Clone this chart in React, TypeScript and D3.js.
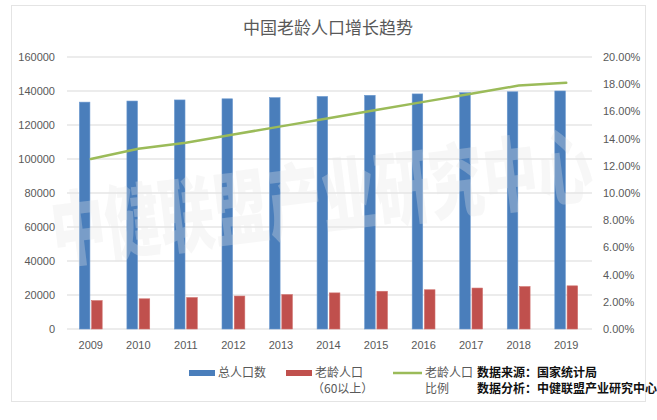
import React from "react";
import * as d3 from "d3";

const years = ["2009","2010","2011","2012","2013","2014","2015","2016","2017","2018","2019"];
const totalPop = [133450,134091,134735,135404,136072,136782,137462,138271,139008,139538,140005];
const elderlyPop = [16714,17765,18499,19390,20243,21242,22200,23086,24090,24949,25388];
const elderlyRatio = [0.125,0.1326,0.137,0.143,0.149,0.155,0.161,0.167,0.173,0.179,0.181];
const leftTicks = [0,20000,40000,60000,80000,100000,120000,140000,160000];
const rightTicks = [0,0.02,0.04,0.06,0.08,0.1,0.12,0.14,0.16,0.18,0.2];
const seriesKeys = ["total","elderly"];

const W = 657, H = 420;
const plotL = 67, plotR = 590, plotT = 57, plotB = 329;
const numFont = "'Liberation Sans', 'Noto Sans CJK SC', sans-serif";
const cjkFont = "'Noto Sans CJK SC', sans-serif";
const grey = "#595959";

export default function App() {
  const x0 = d3.scaleBand<string>().domain(years).range([plotL, plotR]).paddingInner(0.52).paddingOuter(0.26);
  const x1 = d3.scaleBand<string>().domain(seriesKeys).range([0, x0.bandwidth()]).paddingInner(0.14);
  const yL = d3.scaleLinear().domain([0, 160000]).range([plotB, plotT]);
  const yR = d3.scaleLinear().domain([0, 0.2]).range([plotB, plotT]);
  const line = d3.line<number>()
    .x((_, i) => (x0(years[i]) as number) + x0.bandwidth() / 2)
    .y((d) => yR(d));
  const fmtPct = (v: number) => (v * 100).toFixed(2) + "%";

  return (
    <svg width={W} height={H} style={{ position: "absolute", left: 0, top: 0, background: "#fff" }}>
      <rect x={0} y={0} width={W} height={H} fill="#fff" />
      <rect x={11.5} y={5.5} width={634} height={396} fill="none" stroke="#e4e4e4" strokeWidth={1} />
      <text x={328} y={34} textAnchor="middle" fontFamily={cjkFont} fontSize={17} fill={grey}>中国老龄人口增长趋势</text>
      {leftTicks.map((t) => (
        <g key={"g" + t}>
          <line x1={plotL} x2={plotR + 2} y1={yL(t)} y2={yL(t)} stroke="#d9d9d9" strokeWidth={1} />
          <text x={55} y={yL(t) + 4} textAnchor="end" fontFamily={numFont} fontSize={11} fill={grey}>{t}</text>
        </g>
      ))}
      {rightTicks.map((t) => (
        <text key={"r" + t} x={603} y={yR(t) + 4} textAnchor="start" fontFamily={numFont} fontSize={11} fill={grey}>{fmtPct(t)}</text>
      ))}
      {years.map((yr, i) => {
        const bx = x0(yr) as number;
        return (
          <g key={yr}>
            <rect x={bx + (x1("total") as number)} y={yL(totalPop[i])} width={x1.bandwidth()} height={plotB - yL(totalPop[i])}
              fill="#4a7ebb" stroke="#6a98cf" strokeWidth={0.6} />
            <rect x={bx + (x1("elderly") as number)} y={yL(elderlyPop[i])} width={x1.bandwidth()} height={plotB - yL(elderlyPop[i])}
              fill="#c0504d" stroke="#d0706d" strokeWidth={0.6} />
            <text x={bx + x0.bandwidth() / 2} y={349} textAnchor="middle" fontFamily={numFont} fontSize={11} fill={grey}>{yr}</text>
          </g>
        );
      })}
      <path d={line(elderlyRatio) || ""} fill="none" stroke="#9bbb59" strokeWidth={2.5} strokeLinecap="round" />
      {/* watermark */}
      <g transform="translate(325 228) rotate(-7) scale(0.8 1.2)">
        <text x={0} y={0} textAnchor="middle" fontFamily={cjkFont} fontWeight={900} fontSize={68}
          fill="#e6e6e6" opacity={0.3}>中健联盟产业研究中心</text>
      </g>
      {/* legend */}
      <rect x={189} y={370} width={26} height={6} fill="#4a7ebb" />
      <text x={218} y={377} fontFamily={cjkFont} fontSize={12} fill={grey}>总人口数</text>
      <rect x={286} y={370} width={26} height={6} fill="#c0504d" />
      <text x={315} y={377} fontFamily={cjkFont} fontSize={12} fill={grey}>老龄人口</text>
      <text x={312} y={393} fontFamily={cjkFont} fontSize={12} fill={grey}>（60以上）</text>
      <line x1={393} x2={422} y1={373} y2={373} stroke="#9bbb59" strokeWidth={2.5} />
      <text x={425} y={377} fontFamily={cjkFont} fontSize={12} fill={grey}>老龄人口</text>
      <text x={425} y={393} fontFamily={cjkFont} fontSize={12} fill={grey}>比例</text>
      <text x={477} y={377} fontFamily={cjkFont} fontSize={12} fontWeight={700} fill="#111">数据来源：国家统计局</text>
      <text x={477} y={393} fontFamily={cjkFont} fontSize={12} fontWeight={700} fill="#111">数据分析：中健联盟产业研究中心</text>
    </svg>
  );
}
